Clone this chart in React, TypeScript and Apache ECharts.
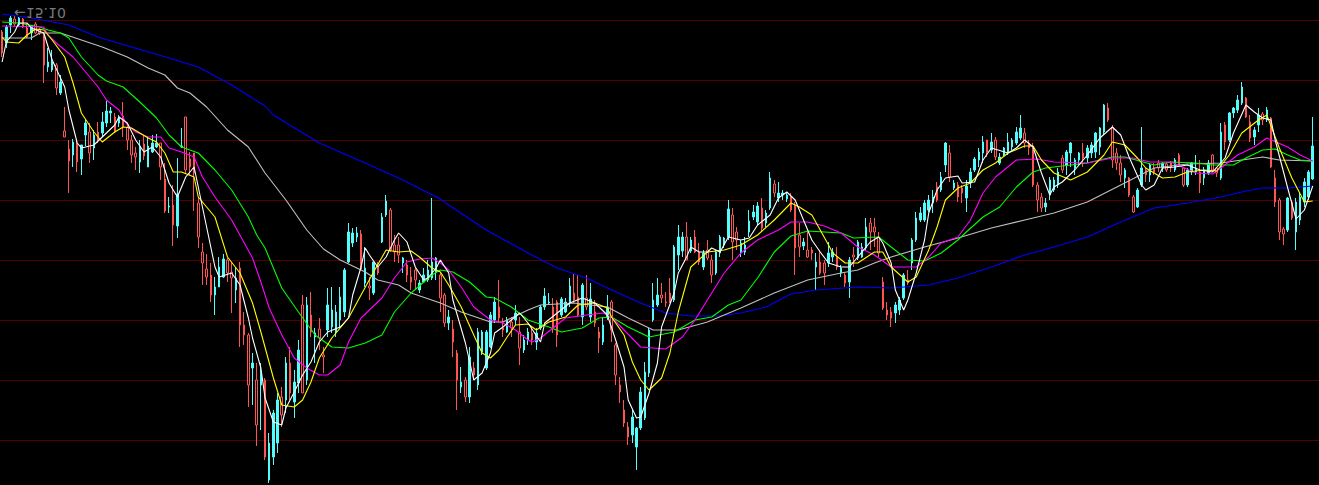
import React, { useEffect, useRef } from "react";
import * as echarts from "echarts";

// Daily K-line (flipped price axis, as in the source terminal view)
const opens = [
  15.32, 15.43, 15.25, 15.19, 15.25, 15.19, 15.28, 15.33, 15.24, 15.29,
  15.36, 15.67, 15.70, 15.65, 15.93, 16.31, 16.49, 16.55, 16.44, 16.59,
  16.35, 16.32, 16.48, 16.32, 16.33, 16.23, 16.13, 16.17, 16.23, 16.16,
  16.27, 16.40, 16.53, 16.62, 16.44, 16.67, 16.52, 16.47, 16.43, 16.79,
  17.07, 17.05, 17.26, 16.47, 16.17, 16.59, 16.53, 17.03, 17.52, 17.69,
  17.75, 17.95, 17.87, 17.77, 17.60, 17.72, 17.90, 17.68, 18.25, 18.35,
  18.68, 18.80, 18.85, 18.80, 19.80, 19.57, 19.43, 18.97, 19.00, 18.63,
  19.02, 18.83, 18.05, 18.80, 18.15, 18.37, 18.29, 18.55, 18.30, 18.27,
  18.32, 18.20, 18.12, 17.62, 17.43, 17.37, 17.34, 17.83, 17.86, 17.93,
  17.67, 17.42, 17.15, 17.10, 17.45, 17.45, 17.63, 17.65, 17.77, 17.70,
  17.90, 17.82, 17.80, 17.78, 17.72, 17.75, 17.95, 18.23, 18.29, 18.53,
  18.87, 18.80, 18.97, 18.68, 18.85, 18.52, 18.68, 18.47, 18.20, 18.07,
  18.28, 18.32, 18.22, 18.20, 18.32, 18.50, 18.40, 18.33, 18.42, 18.28,
  18.07, 18.03, 18.07, 18.02, 18.15, 18.12, 18.03, 17.93, 17.97, 18.17,
  17.98, 18.17, 18.12, 18.32, 18.42, 18.17, 18.02, 18.45, 18.85, 19.10,
  19.27, 19.35, 19.47, 19.28, 19.18, 18.73, 18.20, 18.05, 17.95, 18.02,
  17.93, 18.00, 17.55, 17.51, 17.37, 17.51, 17.37, 17.52, 17.67, 17.50,
  17.60, 17.73, 17.53, 17.45, 17.37, 17.15, 17.32, 17.53, 17.52, 17.32,
  17.17, 17.22, 17.08, 17.23, 17.08, 16.84, 16.98, 16.95, 16.99, 16.97,
  17.05, 17.35, 17.46, 17.50, 17.50, 17.67, 17.62, 17.63, 17.63, 17.57,
  17.57, 17.73, 17.75, 17.82, 17.55, 17.58, 17.57, 17.48, 17.23, 17.27,
  17.37, 17.82, 18.10, 18.12, 18.13, 18.10, 17.98, 17.80, 17.63, 17.40,
  17.20, 17.20, 17.10, 17.03, 16.87, 16.90, 16.65, 16.53, 16.88, 16.85,
  16.88, 16.98, 16.83, 16.70, 16.60, 16.53, 16.40, 16.50, 16.40, 16.63,
  16.55, 16.53, 16.47, 16.43, 16.38, 16.33, 16.43, 16.50, 16.85, 16.97,
  17.07, 16.95, 16.90, 16.85, 16.58, 16.65, 16.53, 16.68, 16.60, 16.53,
  16.58, 16.53, 16.52, 16.47, 16.32, 16.08, 16.28, 16.53, 16.63, 16.78,
  16.78, 16.97, 17.07, 16.85, 16.70, 16.75, 16.68, 16.63, 16.68, 16.64,
  16.63, 16.70, 16.55, 16.68, 16.85, 16.72, 16.72, 16.72, 16.78, 16.73,
  16.55, 16.68, 16.78, 16.25, 16.40, 16.13, 16.10, 16.03, 15.98, 16.22,
  16.37, 16.25, 16.14, 16.20, 16.18, 16.78, 17.00, 17.29, 17.30, 17.02,
  17.32, 17.20, 17.02, 16.97, 16.79,
];
const closes = [
  15.53, 15.27, 15.18, 15.24, 15.18, 15.27, 15.37, 15.26, 15.33, 15.33,
  15.65, 15.62, 15.62, 15.88, 15.82, 16.37, 16.61, 16.42, 16.62, 16.45,
  16.23, 16.53, 16.35, 16.40, 16.22, 16.11, 16.11, 16.32, 16.17, 16.27,
  16.40, 16.55, 16.57, 16.46, 16.56, 16.46, 16.43, 16.43, 16.67, 17.11,
  17.06, 17.25, 16.94, 16.46, 16.70, 16.67, 16.73, 17.37, 17.63, 17.77,
  17.95, 17.87, 17.67, 17.59, 17.73, 17.78, 17.78, 18.25, 18.35, 18.85,
  18.63, 19.25, 18.74, 19.57, 19.43, 19.13, 19.00, 19.15, 18.63, 18.93,
  18.82, 18.50, 18.93, 18.05, 18.32, 18.33, 18.38, 18.57, 18.05, 18.10,
  18.12, 17.97, 17.70, 17.32, 17.33, 17.33, 17.69, 17.68, 17.88, 17.62,
  17.73, 17.17, 17.01, 17.50, 17.52, 17.55, 17.58, 17.75, 17.82, 17.80,
  17.83, 17.75, 17.70, 17.62, 17.58, 17.98, 18.23, 18.17, 18.42, 18.80,
  18.82, 18.97, 18.57, 18.75, 18.32, 18.32, 18.32, 18.15, 18.02, 18.18,
  18.30, 18.20, 18.28, 18.13, 18.48, 18.40, 18.32, 18.40, 18.33, 18.07,
  17.96, 18.02, 18.28, 18.35, 17.99, 18.02, 17.86, 18.00, 18.15, 17.85,
  18.07, 17.99, 18.23, 18.38, 18.25, 18.07, 18.30, 18.75, 18.92, 19.23,
  19.37, 19.17, 19.28, 18.92, 18.72, 18.30, 18.00, 17.95, 17.98, 18.03,
  18.02, 17.47, 17.37, 17.37, 17.60, 17.40, 17.52, 17.62, 17.53, 17.58,
  17.75, 17.52, 17.37, 17.38, 17.09, 17.42, 17.40, 17.43, 17.45, 17.21,
  17.12, 17.06, 17.28, 17.13, 16.78, 16.93, 16.93, 16.93, 16.95, 17.10,
  17.48, 17.47, 17.42, 17.57, 17.53, 17.62, 17.73, 17.73, 17.53, 17.52,
  17.67, 17.68, 17.83, 17.60, 17.57, 17.42, 17.47, 17.27, 17.32, 17.32,
  17.53, 18.08, 18.15, 18.18, 18.05, 18.00, 17.75, 17.83, 17.40, 17.18,
  17.13, 17.03, 17.00, 16.97, 17.00, 16.77, 16.43, 16.77, 16.83, 16.97,
  16.93, 16.86, 16.72, 16.59, 16.52, 16.42, 16.52, 16.42, 16.57, 16.57,
  16.48, 16.42, 16.40, 16.32, 16.28, 16.43, 16.48, 16.85, 17.00, 17.08,
  17.03, 16.80, 16.80, 16.72, 16.70, 16.52, 16.43, 16.60, 16.53, 16.58,
  16.48, 16.45, 16.33, 16.28, 16.05, 16.20, 16.60, 16.63, 16.75, 16.70,
  16.95, 17.12, 16.90, 16.68, 16.75, 16.65, 16.72, 16.68, 16.63, 16.70,
  16.67, 16.60, 16.65, 16.85, 16.70, 16.63, 16.68, 16.83, 16.70, 16.63,
  16.70, 16.73, 16.32, 16.42, 16.13, 16.08, 16.00, 15.87, 16.17, 16.38,
  16.30, 16.15, 16.20, 16.10, 16.67, 17.02, 17.32, 17.34, 16.98, 17.18,
  17.02, 16.97, 16.82, 16.72, 16.46,
];
const lows = [
  15.30, 15.25, 15.16, 15.16, 15.17, 15.18, 15.23, 15.25, 15.22, 15.28,
  15.32, 15.48, 15.50, 15.63, 15.75, 16.07, 16.40, 16.39, 16.40, 16.45,
  16.19, 16.23, 16.30, 16.22, 16.12, 16.01, 16.07, 16.13, 16.15, 16.02,
  16.23, 16.35, 16.47, 16.40, 16.36, 16.36, 16.35, 16.34, 16.43, 16.63,
  16.97, 16.85, 16.58, 16.28, 16.17, 16.52, 16.53, 16.97, 17.43, 17.54,
  17.63, 17.77, 17.57, 17.54, 17.58, 17.63, 17.67, 17.62, 18.12, 18.33,
  18.53, 18.63, 18.63, 18.78, 19.33, 19.10, 18.93, 18.87, 18.57, 18.47,
  18.70, 18.40, 17.95, 17.97, 17.92, 18.28, 18.18, 18.47, 17.88, 17.87,
  18.05, 17.87, 17.68, 17.23, 17.28, 17.27, 17.30, 17.47, 17.77, 17.62,
  17.62, 17.13, 16.95, 17.08, 17.35, 17.37, 17.57, 17.60, 17.67, 17.68,
  17.80, 17.68, 17.60, 16.98, 17.57, 17.72, 17.93, 18.10, 18.20, 18.50,
  18.67, 18.77, 18.47, 18.62, 18.28, 18.30, 18.30, 18.12, 17.97, 17.80,
  18.18, 18.17, 18.17, 18.05, 18.17, 18.35, 18.28, 18.27, 18.28, 18.05,
  17.88, 17.93, 17.98, 18.00, 17.97, 17.98, 17.78, 17.74, 17.75, 17.83,
  17.75, 17.83, 18.00, 18.27, 18.17, 17.95, 18.00, 18.43, 18.77, 19.00,
  19.22, 19.10, 19.27, 18.87, 18.62, 18.28, 17.83, 17.78, 17.83, 17.92,
  17.78, 17.45, 17.25, 17.32, 17.22, 17.37, 17.30, 17.43, 17.50, 17.40,
  17.55, 17.50, 17.35, 17.37, 17.00, 17.08, 17.27, 17.40, 17.37, 17.10,
  17.05, 17.02, 16.98, 17.10, 16.72, 16.80, 16.82, 16.90, 16.92, 16.93,
  17.02, 17.23, 17.38, 17.32, 17.47, 17.53, 17.50, 17.60, 17.42, 17.48,
  17.47, 17.65, 17.73, 17.57, 17.47, 17.40, 17.43, 17.18, 17.18, 17.18,
  17.32, 17.77, 18.02, 18.07, 18.02, 17.97, 17.73, 17.70, 17.38, 17.12,
  17.07, 17.00, 16.95, 16.90, 16.82, 16.72, 16.42, 16.45, 16.80, 16.82,
  16.85, 16.80, 16.68, 16.57, 16.48, 16.36, 16.40, 16.33, 16.37, 16.53,
  16.47, 16.33, 16.38, 16.27, 16.15, 16.28, 16.40, 16.43, 16.82, 16.93,
  16.98, 16.77, 16.77, 16.68, 16.55, 16.50, 16.42, 16.58, 16.52, 16.43,
  16.45, 16.42, 16.32, 16.27, 16.04, 16.03, 16.25, 16.48, 16.55, 16.68,
  16.77, 16.95, 16.88, 16.27, 16.68, 16.63, 16.63, 16.60, 16.62, 16.62,
  16.61, 16.58, 16.53, 16.67, 16.68, 16.62, 16.55, 16.60, 16.67, 16.60,
  16.54, 16.67, 16.23, 16.22, 16.12, 16.07, 15.95, 15.82, 15.97, 16.15,
  16.27, 16.08, 16.12, 16.07, 16.17, 16.70, 16.98, 17.27, 16.97, 17.00,
  16.98, 16.93, 16.78, 16.70, 16.17,
];
const highs = [
  15.57, 15.48, 15.33, 15.26, 15.27, 15.28, 15.38, 15.40, 15.34, 15.35,
  15.83, 15.72, 15.72, 15.95, 15.95, 16.37, 16.93, 16.67, 16.72, 16.75,
  16.46, 16.63, 16.60, 16.43, 16.37, 16.27, 16.23, 16.33, 16.27, 16.37,
  16.50, 16.63, 16.70, 16.73, 16.60, 16.67, 16.53, 16.48, 16.80, 17.13,
  17.13, 17.46, 17.38, 16.48, 16.73, 16.75, 17.11, 17.48, 17.85, 17.85,
  18.02, 18.15, 17.87, 17.78, 17.82, 18.13, 18.03, 18.47, 18.45, 19.07,
  19.05, 19.46, 19.30, 19.60, 19.83, 19.65, 19.53, 19.27, 19.13, 19.00,
  19.18, 18.93, 18.93, 18.85, 18.37, 18.63, 18.50, 18.73, 18.37, 18.33,
  18.37, 18.28, 18.17, 17.63, 17.47, 17.42, 17.70, 17.87, 18.00, 17.95,
  17.75, 17.43, 17.17, 17.52, 17.62, 17.63, 17.73, 17.82, 17.90, 17.90,
  17.93, 17.83, 17.82, 17.80, 17.80, 18.12, 18.27, 18.30, 18.57, 19.10,
  18.93, 19.02, 19.03, 18.80, 18.90, 18.55, 18.70, 18.48, 18.23, 18.23,
  18.37, 18.33, 18.37, 18.25, 18.65, 18.53, 18.45, 18.45, 18.50, 18.30,
  18.10, 18.05, 18.33, 18.47, 18.17, 18.13, 18.07, 18.03, 18.17, 18.25,
  18.10, 18.22, 18.27, 18.53, 18.45, 18.20, 18.42, 18.85, 19.03, 19.27,
  19.45, 19.43, 19.70, 19.30, 19.20, 18.77, 18.22, 18.07, 18.03, 18.07,
  18.03, 18.02, 17.70, 17.57, 17.60, 17.53, 17.53, 17.65, 17.70, 17.60,
  17.83, 17.75, 17.57, 17.48, 17.40, 17.60, 17.50, 17.57, 17.55, 17.37,
  17.20, 17.25, 17.32, 17.27, 17.10, 16.97, 17.02, 17.00, 17.02, 17.12,
  17.75, 17.57, 17.50, 17.58, 17.60, 17.90, 17.75, 17.85, 17.67, 17.62,
  17.70, 17.77, 17.87, 17.98, 17.67, 17.60, 17.58, 17.50, 17.50, 17.47,
  17.57, 18.10, 18.20, 18.27, 18.23, 18.15, 18.00, 17.85, 17.70, 17.42,
  17.22, 17.22, 17.12, 17.13, 17.02, 16.92, 16.72, 16.82, 16.90, 17.02,
  17.03, 17.12, 16.88, 16.72, 16.67, 16.63, 16.57, 16.53, 16.60, 16.65,
  16.57, 16.55, 16.50, 16.45, 16.40, 16.48, 16.55, 16.87, 17.12, 17.12,
  17.12, 17.00, 16.92, 16.88, 16.73, 16.75, 16.67, 16.75, 16.65, 16.67,
  16.63, 16.58, 16.58, 16.55, 16.35, 16.22, 16.68, 16.70, 16.82, 16.88,
  16.97, 17.13, 17.08, 16.87, 16.82, 16.82, 16.75, 16.72, 16.72, 16.72,
  16.72, 16.72, 16.67, 16.87, 16.87, 16.75, 16.75, 16.93, 16.85, 16.75,
  16.72, 16.77, 16.80, 16.50, 16.42, 16.18, 16.13, 16.05, 16.18, 16.42,
  16.45, 16.32, 16.25, 16.22, 16.68, 17.07, 17.40, 17.45, 17.32, 17.20,
  17.50, 17.25, 17.07, 17.00, 16.80,
];

// Moving averages, read as [bar index, price]
const maWhite = [
  [0, 15.62], [1, 15.42], [3, 15.32], [4, 15.23], [6, 15.23], [7, 15.28], [10, 15.33], [12, 15.6], [15, 15.87], [16, 16.1],
  [18, 16.43], [19, 16.48], [22, 16.45], [24, 16.37], [27, 16.25], [28, 16.17], [30, 16.23], [32, 16.4], [34, 16.52], [36, 16.47],
  [38, 16.57], [40, 16.83], [42, 16.97], [44, 16.77], [46, 16.67], [47, 16.87], [49, 17.27], [51, 17.67], [52, 17.77], [55, 17.73],
  [57, 17.85], [59, 18.18], [60, 18.38], [62, 18.68], [63, 18.98], [65, 19.22], [67, 19.25], [68, 19.08], [70, 18.92], [72, 18.75],
  [74, 18.62], [76, 18.42], [78, 18.32], [81, 18.27], [83, 18.18], [84, 17.95], [86, 17.67], [87, 17.48], [88, 17.55], [90, 17.67],
  [92, 17.57], [94, 17.4], [95, 17.33], [97, 17.42], [99, 17.67], [101, 17.8], [102, 17.78], [104, 17.68], [105, 17.6], [107, 17.73],
  [108, 18.0], [111, 18.43], [113, 18.8], [115, 18.73], [117, 18.53], [118, 18.33], [120, 18.27], [122, 18.2], [124, 18.13], [126, 18.23],
  [129, 18.42], [130, 18.23], [133, 18.13], [136, 18.03], [139, 17.98], [142, 18.03], [145, 18.15], [147, 18.4], [149, 18.67], [150, 19.0],
  [152, 19.18], [153, 19.17], [155, 18.93], [157, 18.63], [158, 18.27], [161, 17.93], [162, 17.73], [164, 17.57], [165, 17.47], [167, 17.52],
  [169, 17.52], [170, 17.48], [172, 17.52], [174, 17.37], [177, 17.4], [179, 17.38], [181, 17.25], [184, 17.15], [186, 16.98], [188, 16.92],
  [190, 17.0], [192, 17.2], [194, 17.4], [196, 17.52], [198, 17.63], [201, 17.67], [203, 17.67], [205, 17.57], [208, 17.42], [210, 17.37],
  [211, 17.43], [213, 17.63], [214, 17.9], [216, 18.1], [217, 18.0], [219, 17.73], [221, 17.4], [222, 17.13], [224, 16.9], [226, 16.78],
  [229, 16.76], [230, 16.83], [233, 16.82], [235, 16.6], [237, 16.48], [241, 16.53], [243, 16.48], [245, 16.4], [247, 16.47], [249, 16.73],
  [251, 16.95], [252, 16.87], [254, 16.82], [257, 16.7], [260, 16.55], [263, 16.38], [266, 16.27], [268, 16.35], [270, 16.57], [273, 16.85],
  [274, 16.9], [276, 16.85], [278, 16.68], [281, 16.67], [284, 16.65], [287, 16.7], [290, 16.72], [293, 16.58], [295, 16.33], [298, 16.05],
  [300, 16.12], [302, 16.18], [304, 16.2], [305, 16.4], [308, 16.88], [310, 17.19], [312, 17.1], [314, 16.86],
];
const maYellow = [
  [0, 15.37], [1, 15.42], [4, 15.43], [6, 15.35], [8, 15.29], [10, 15.3], [12, 15.4], [15, 15.57], [17, 15.83], [19, 16.13],
  [22, 16.32], [24, 16.42], [27, 16.32], [29, 16.27], [31, 16.28], [35, 16.38], [37, 16.42], [39, 16.53], [41, 16.72], [43, 16.72],
  [46, 16.77], [47, 16.97], [51, 17.17], [54, 17.57], [57, 17.73], [60, 18.03], [62, 18.32], [65, 18.78], [67, 19.05], [70, 19.07],
  [72, 19.0], [74, 18.82], [76, 18.58], [79, 18.38], [83, 18.18], [86, 17.95], [89, 17.72], [92, 17.5], [95, 17.52], [98, 17.51],
  [100, 17.57], [103, 17.68], [105, 17.72], [107, 17.85], [110, 18.07], [113, 18.35], [115, 18.53], [117, 18.58], [119, 18.5], [121, 18.37],
  [123, 18.25], [126, 18.24], [128, 18.3], [131, 18.22], [135, 18.17], [138, 18.05], [142, 18.03], [145, 18.08], [146, 18.17], [149, 18.35],
  [151, 18.62], [153, 18.8], [155, 18.9], [158, 18.78], [160, 18.53], [162, 18.12], [165, 17.67], [169, 17.52], [173, 17.5], [177, 17.45],
  [181, 17.35], [185, 17.2], [189, 17.03], [191, 17.07], [194, 17.15], [196, 17.3], [198, 17.45], [199, 17.53], [202, 17.63], [205, 17.63],
  [209, 17.52], [211, 17.52], [213, 17.67], [217, 17.82], [219, 17.77], [222, 17.5], [224, 17.27], [226, 17.0], [229, 16.88], [232, 16.83],
  [235, 16.7], [238, 16.63], [241, 16.53], [245, 16.46], [247, 16.46], [249, 16.6], [252, 16.73], [256, 16.8], [260, 16.72], [264, 16.55],
  [266, 16.42], [269, 16.45], [272, 16.58], [274, 16.68], [278, 16.78], [281, 16.77], [284, 16.72], [288, 16.7], [291, 16.71], [294, 16.55],
  [297, 16.33], [301, 16.2], [303, 16.15], [306, 16.48], [309, 16.78], [312, 17.02], [314, 17.01],
];
const maMagenta = [
  [0, 15.26], [10, 15.27], [11, 15.35], [13, 15.43], [17, 15.57], [20, 15.72], [23, 15.87], [25, 16.0], [28, 16.1], [30, 16.25],
  [32, 16.32], [35, 16.37], [38, 16.37], [40, 16.48], [43, 16.52], [46, 16.57], [48, 16.77], [51, 16.97], [55, 17.2], [60, 17.58],
  [62, 17.82], [64, 18.08], [67, 18.35], [70, 18.58], [73, 18.68], [76, 18.75], [78, 18.75], [81, 18.65], [83, 18.42], [86, 18.18],
  [91, 17.98], [94, 17.78], [97, 17.62], [100, 17.59], [103, 17.58], [105, 17.63], [107, 17.7], [110, 17.87], [113, 18.07], [117, 18.2],
  [120, 18.23], [123, 18.3], [126, 18.4], [127, 18.42], [129, 18.38], [132, 18.28], [135, 18.18], [140, 18.15], [144, 18.13], [146, 18.17],
  [149, 18.3], [153, 18.47], [159, 18.49], [163, 18.37], [166, 18.2], [170, 17.93], [173, 17.73], [177, 17.53], [181, 17.4], [186, 17.3],
  [189, 17.22], [193, 17.22], [197, 17.26], [201, 17.33], [205, 17.47], [209, 17.55], [213, 17.67], [219, 17.67], [222, 17.57], [225, 17.43],
  [229, 17.37], [232, 17.2], [235, 16.93], [238, 16.77], [243, 16.6], [248, 16.59], [252, 16.62], [260, 16.63], [266, 16.58], [271, 16.58],
  [275, 16.62], [280, 16.62], [286, 16.73], [290, 16.74], [292, 16.68], [296, 16.55], [300, 16.47], [303, 16.38], [308, 16.47], [311, 16.55],
  [314, 16.61],
];
const maGreen = [
  [0, 15.22], [4, 15.23], [9, 15.27], [11, 15.3], [14, 15.33], [16, 15.38], [19, 15.57], [23, 15.75], [25, 15.81], [29, 15.87],
  [33, 16.02], [37, 16.18], [40, 16.35], [43, 16.47], [47, 16.53], [51, 16.7], [55, 16.9], [59, 17.17], [61, 17.35], [63, 17.48],
  [67, 17.88], [71, 18.12], [75, 18.35], [79, 18.47], [83, 18.48], [87, 18.43], [91, 18.35], [94, 18.12], [98, 17.93], [103, 17.75],
  [105, 17.7], [108, 17.72], [112, 17.82], [116, 17.97], [118, 17.98], [122, 18.07], [126, 18.2], [131, 18.27], [134, 18.32], [139, 18.28],
  [143, 18.18], [146, 18.17], [150, 18.27], [155, 18.37], [161, 18.32], [166, 18.2], [170, 18.17], [174, 18.05], [177, 18.0], [181, 17.78],
  [185, 17.52], [189, 17.36], [193, 17.31], [197, 17.32], [201, 17.33], [204, 17.38], [210, 17.37], [213, 17.47], [217, 17.6], [221, 17.61],
  [225, 17.53], [229, 17.4], [231, 17.32], [235, 17.17], [239, 17.07], [243, 16.87], [247, 16.72], [250, 16.68], [252, 16.67], [260, 16.63],
  [266, 16.57], [269, 16.57], [276, 16.65], [280, 16.62], [286, 16.63], [290, 16.65], [295, 16.65], [298, 16.58], [302, 16.5], [305, 16.49],
  [308, 16.55], [311, 16.6], [314, 16.61],
];
const maGray = [
  [0, 15.38], [7, 15.38], [9, 15.33], [14, 15.33], [19, 15.4], [24, 15.47], [30, 15.57], [35, 15.68], [39, 15.75], [42, 15.88],
  [45, 15.93], [49, 16.07], [54, 16.3], [59, 16.47], [63, 16.73], [68, 17.0], [73, 17.3], [77, 17.49], [81, 17.6], [87, 17.72],
  [90, 17.8], [95, 17.85], [98, 17.93], [105, 18.03], [110, 18.12], [117, 18.22], [120, 18.22], [126, 18.1], [129, 18.05], [137, 18.03],
  [145, 18.07], [150, 18.18], [156, 18.3], [162, 18.3], [169, 18.22], [177, 18.08], [185, 17.93], [193, 17.8], [201, 17.73], [205, 17.7],
  [209, 17.63], [213, 17.57], [221, 17.47], [229, 17.38], [237, 17.28], [245, 17.2], [252, 17.13], [260, 17.02], [268, 16.85], [276, 16.68],
  [284, 16.64], [292, 16.63], [302, 16.57], [306, 16.6], [314, 16.61],
];
const maBlue = [
  [0, 15.14], [7, 15.18], [16, 15.25], [23, 15.37], [31, 15.47], [40, 15.58], [47, 15.67], [55, 15.85], [63, 16.06], [65, 16.15],
  [76, 16.43], [87, 16.63], [96, 16.8], [105, 16.99], [107, 17.05], [116, 17.3], [126, 17.53], [133, 17.68], [140, 17.78], [145, 17.88],
  [153, 18.03], [159, 18.13], [165, 18.16], [172, 18.16], [177, 18.13], [183, 18.07], [189, 17.94], [195, 17.9], [205, 17.87], [213, 17.88],
  [222, 17.85], [229, 17.78], [237, 17.67], [245, 17.55], [252, 17.47], [260, 17.37], [268, 17.22], [276, 17.08], [284, 17.03], [292, 16.97],
  [298, 16.91], [302, 16.88], [308, 16.88], [314, 16.86],
];

// Horizontal reference levels of the price pane
const gridLevels = [15.2049, 15.8049, 16.4049, 17.0049, 17.6049, 18.2049, 18.8049, 19.4049];
const extremeLabel = "←15.10";
const slotCount = 316;

export default function App() {
  const ref = useRef<HTMLDivElement>(null);

  useEffect(() => {
    document.body.style.margin = "0";
    document.body.style.background = "#000";
    const chart = echarts.init(ref.current as HTMLDivElement, null, { renderer: "svg" });
    const categories = Array.from({ length: slotCount }, (_, k) => String(k + 1));
    const candles = opens.map((o, k) => [o, closes[k], lows[k], highs[k]]);
    const maLine = (name: string, data: number[][], color: string) => ({
      type: "line",
      name,
      data,
      symbol: "none",
      showSymbol: false,
      silent: true,
      z: 3,
      lineStyle: { color, width: 1.1 },
      itemStyle: { color },
    });
    chart.setOption({
      animation: false,
      backgroundColor: "#000000",
      grid: { left: 0, right: 0, top: 0, bottom: 0 },
      xAxis: { type: "category", data: categories, show: false, boundaryGap: true },
      yAxis: {
        type: "value",
        inverse: true,
        min: 15,
        max: 19.85,
        show: false,
        splitLine: { show: false },
      },
      series: [
        {
          type: "candlestick",
          data: candles,
          barWidth: 2,
          z: 2,
          silent: true,
          itemStyle: {
            color: "#000000",
            color0: "#54fcfc",
            borderColor: "#ff5454",
            borderColor0: "#54fcfc",
            borderWidth: 1,
          },
          markLine: {
            silent: true,
            z: 1,
            symbol: "none",
            animation: false,
            label: { show: false },
            lineStyle: { color: "#520000", width: 1, type: "solid", opacity: 1 },
            emphasis: { disabled: true },
            data: gridLevels.map((v) => ({ yAxis: v })),
          },
        },
        maLine("MA250", maBlue, "#0000ff"),
        maLine("MA60", maGray, "#c0c0c0"),
        maLine("MA30", maGreen, "#00ff00"),
        maLine("MA20", maMagenta, "#ff00ff"),
        maLine("MA10", maYellow, "#ffff00"),
        maLine("MA5", maWhite, "#ffffff"),
      ],
      graphic: [
        {
          type: "text",
          x: 14,
          y: 12.5,
          scaleY: -1,
          silent: true,
          z: 10,
          style: {
            text: extremeLabel,
            fill: "#7a7a7a",
            font: '14px "DejaVu Sans"',
            verticalAlign: "middle",
          },
        },
      ],
    });
    return () => chart.dispose();
  }, []);

  return (
    <div
      ref={ref}
      style={{ position: "fixed", left: 0, top: 0, width: 1319, height: 485, background: "#000" }}
    />
  );
}
